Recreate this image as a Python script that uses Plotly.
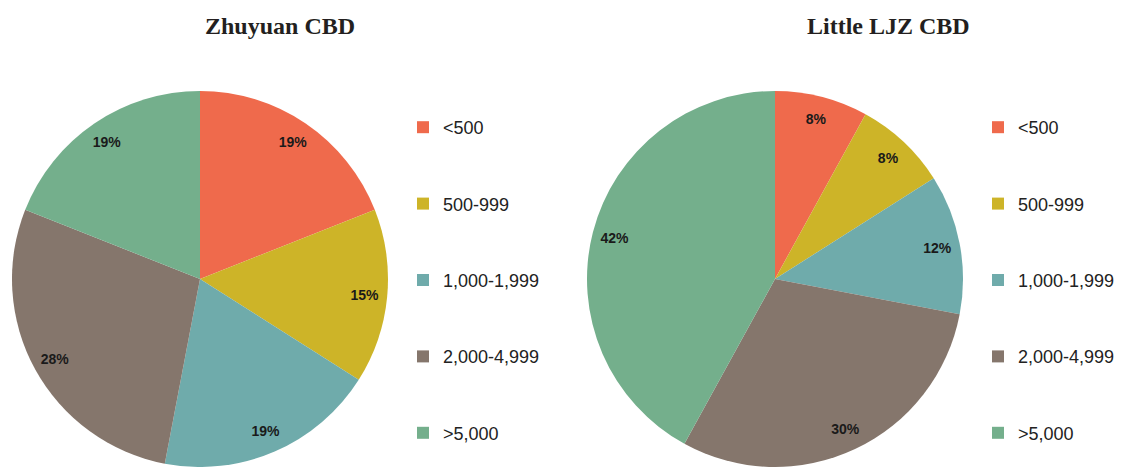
import plotly.graph_objects as go

categories = ["<500", "500-999", "1,000-1,999", "2,000-4,999", ">5,000"]
zhuyuan_values = [19, 15, 19, 28, 19]
little_ljz_values = [8, 8, 12, 30, 42]
titles = ["Zhuyuan CBD", "Little LJZ CBD"]
colors = ["#EF6A4C", "#CDB428", "#6FABAB", "#85766C", "#74AF8C"]

W, H = 1138, 467
fig = go.Figure()

domains = [
    dict(x=[11 / W, 389 / W], y=[0, 376 / H]),
    dict(x=[584 / W, 966 / W], y=[0, 376 / H]),
]
datasets = [zhuyuan_values, little_ljz_values]

for dom, vals in zip(domains, datasets):
    fig.add_trace(go.Pie(
        labels=categories, values=vals, domain=dom, sort=False,
        direction="clockwise", rotation=0, textinfo="none",
        marker=dict(colors=colors, line=dict(width=0)),
        showlegend=False, hoverinfo="label+value",
    ))
    # transparent ring overlay to place the percentage labels near the rim
    fig.add_trace(go.Pie(
        labels=categories, values=vals, domain=dom, sort=False,
        direction="clockwise", rotation=0, hole=0.76,
        texttemplate="%{value}%", textposition="inside",
        insidetextorientation="horizontal",
        textfont=dict(family="Liberation Sans, Arial", size=14, color="#1a1a1a", weight="bold"),
        marker=dict(colors=["rgba(0,0,0,0)"] * len(vals), line=dict(width=0)),
        showlegend=False, hoverinfo="skip",
    ))

for legend_name in ["legend", "legend2"]:
    for i, (cat, col) in enumerate(zip(categories, colors)):
        fig.add_trace(go.Scatter(
            x=[None], y=[None], mode="markers", name=cat,
            marker=dict(symbol="square", size=12, color=col),
            legend=legend_name, legendgroup=f"{legend_name}_{i}",
            showlegend=True,
        ))

legend_common = dict(
    orientation="v", traceorder="grouped", tracegroupgap=50,
    font=dict(family="Liberation Sans, Arial", size=18, color="#222222"),
    bgcolor="rgba(0,0,0,0)", borderwidth=0, itemwidth=30,
    xanchor="left", yanchor="top", y=1 - 109 / H,
)

title_font = dict(family="Liberation Serif, Times New Roman", size=24, color="#231f20", weight="bold")

fig.update_layout(
    width=W, height=H,
    margin=dict(l=0, r=0, t=0, b=0),
    paper_bgcolor="white", plot_bgcolor="white",
    uniformtext=dict(minsize=14, mode="show"),
    xaxis=dict(visible=False), yaxis=dict(visible=False),
    legend=dict(**legend_common, x=403 / W),
    legend2=dict(**legend_common, x=978 / W),
    annotations=[
        dict(text=titles[0], x=280 / W, y=1 - 26 / H, xref="paper", yref="paper",
             showarrow=False, xanchor="center", yanchor="middle", font=title_font),
        dict(text=titles[1], x=888 / W, y=1 - 26 / H, xref="paper", yref="paper",
             showarrow=False, xanchor="center", yanchor="middle", font=title_font),
    ],
)

fig.write_html("out.html")
